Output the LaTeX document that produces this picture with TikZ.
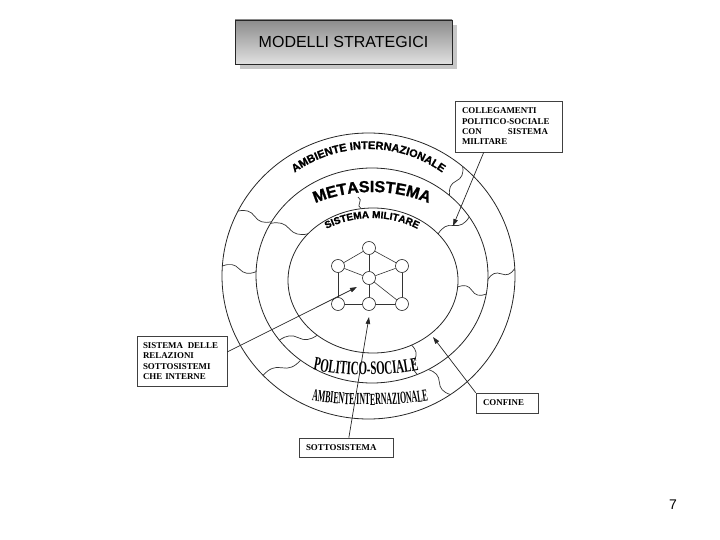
\documentclass[tikz,border=0pt]{standalone}
\usepackage{fontspec}
\setmainfont{Liberation Serif}
\newfontfamily\arialfont{Liberation Sans}
\newfontfamily\heavyfont{Liberation Sans}[FakeBold=1.2]
\newfontfamily\condA{Liberation Serif}[FakeStretch=0.57]
\newfontfamily\condB{Liberation Serif}[FakeStretch=0.46]
\usetikzlibrary{calc,arrows.meta,decorations.text,shadows}
\newcommand\fTopA{\heavyfont\bfseries\fontsize{11}{13}\selectfont}
\newcommand\fMeta{\heavyfont\bfseries\fontsize{16}{18}\selectfont}
\newcommand\fMil{\heavyfont\bfseries\fontsize{10}{12}\selectfont}
\newcommand\fPol{\condA\bfseries\fontsize{19}{21}\selectfont}
\newcommand\fBotA{\condB\bfseries\fontsize{17}{19}\selectfont}
\newcommand\spreadline[2]{\leavevmode\hbox to #1{#2}}
\newcommand\mywavy[3]{%
  \draw[wig] (#1) .. controls ($(#1)!0.2!(#2)!#3!90:(#2)$) and ($(#1)!0.35!(#2)!#3!90:(#2)$) .. ($(#1)!0.5!(#2)$)
    .. controls ($(#1)!0.65!(#2)!-#3!90:(#2)$) and ($(#1)!0.8!(#2)!-#3!90:(#2)$) .. (#2);}
\tikzset{
  ring/.style={line width=0.8pt, draw=black!85},
  wig/.style={line width=0.7pt, draw=black!80},
  lbl/.style={draw=black!75, line width=0.6pt, font=\bfseries\fontsize{8.9}{10.3}\selectfont, align=left, inner ysep=3pt},
  net/.style={circle, draw=black!85, line width=0.6pt, fill=white, minimum size=13pt, inner sep=0pt},
  netedge/.style={line width=0.6pt, draw=black!80},
  ptr/.style={line width=0.7pt, draw=black!85, -{Triangle[length=7pt,width=4.5pt]}}
}
\begin{document}
\begin{tikzpicture}[x=1pt,y=1pt]
\useasboundingbox (0,0) rectangle (720,-540);

% title
\node[draw=black!85, line width=0.8pt, top color=black!45, bottom color=black!12,
      minimum width=217pt, minimum height=44pt,
      drop shadow={shadow xshift=5pt, shadow yshift=-5pt, fill=black!22, opacity=1},
      font=\arialfont\fontsize{16}{19}\selectfont] (title) at (343.5,-42) {MODELLI STRATEGICI};

% rings
\coordinate (Co) at (368.5,-276);
\coordinate (Cm) at (372,-275.5);
\coordinate (Ci) at (373,-280.5);
\draw[ring] (Co) ellipse [x radius=146.5pt, y radius=143pt];
\draw[ring] (Cm) ellipse [x radius=116pt, y radius=107.5pt];
\draw[ring] (Ci) ellipse [x radius=85pt, y radius=72.5pt];

% boundaries in the outer band
\coordinate (w1a) at ($(Cm)+(48:116pt and 107.5pt)$);
\coordinate (w1b) at ($(Co)+(50:146.5pt and 143pt)$);
\coordinate (w2a) at ($(Cm)+(150:116pt and 107.5pt)$);
\coordinate (w2b) at ($(Co)+(153:146.5pt and 143pt)$);
\coordinate (w3a) at ($(Cm)+(178:116pt and 107.5pt)$);
\coordinate (w3b) at ($(Co)+(176:146.5pt and 143pt)$);
\coordinate (w4a) at ($(Cm)+(232:116pt and 107.5pt)$);
\coordinate (w4b) at ($(Co)+(224:146.5pt and 143pt)$);
\coordinate (w5a) at ($(Cm)+(358:116pt and 107.5pt)$);
\coordinate (w5b) at ($(Co)+(3:146.5pt and 143pt)$);
\coordinate (w6a) at ($(Cm)+(299:116pt and 107.5pt)$);
\coordinate (w6b) at ($(Co)+(304:146.5pt and 143pt)$);
\mywavy{w1a}{w1b}{4pt}
\mywavy{w2a}{w2b}{4pt}
\mywavy{w3a}{w3b}{4pt}
\mywavy{w4a}{w4b}{4pt}
\mywavy{w5a}{w5b}{4pt}
\mywavy{w6a}{w6b}{4pt}

% boundaries in the middle band
\coordinate (m1a) at (358,-197);
\coordinate (m1b) at ($(Ci)+(98:85pt and 72.5pt)$);
\coordinate (m2a) at ($(Cm)+(151:116pt and 107.5pt)$);
\coordinate (m2b) at ($(Ci)+(140:85pt and 72.5pt)$);
\coordinate (m3a) at ($(Cm)+(33:116pt and 107.5pt)$);
\coordinate (m3b) at ($(Ci)+(40:85pt and 72.5pt)$);
\coordinate (m4a) at ($(Cm)+(350:116pt and 107.5pt)$);
\coordinate (m4b) at ($(Ci)+(355:85pt and 72.5pt)$);
\coordinate (m5a) at ($(Cm)+(293:116pt and 107.5pt)$);
\coordinate (m5b) at ($(Ci)+(297:85pt and 72.5pt)$);
\coordinate (m6a) at ($(Cm)+(217:116pt and 107.5pt)$);
\coordinate (m6b) at ($(Ci)+(229:85pt and 72.5pt)$);
\mywavy{m1a}{m1b}{2pt}
\mywavy{m2a}{m2b}{4pt}
\mywavy{m3a}{m3b}{4pt}
\mywavy{m4a}{m4b}{4pt}
\mywavy{m5a}{m5b}{4pt}
\mywavy{m6a}{m6b}{4pt}

% arc texts
\path[decorate, decoration={text along path, text align=center, text={|\fTopA|AMBIENTE INTERNAZIONALE}}]
  ($(Co)+(160:127pt)$) arc[start angle=160, end angle=20, radius=127pt];
\path[decorate, decoration={text along path, text align=center, text={|\fMeta|METASISTEMA}}]
  ($(372,-342)+(125:150pt)$) arc[start angle=125, end angle=55, radius=150pt];
\path[decorate, decoration={text along path, text align=center, text={|\fMil|SISTEMA MILITARE}}]
  ($(372,-318)+(140:100pt)$) arc[start angle=140, end angle=40, radius=100pt];
\path[decorate, decoration={text along path, text align=center, text={|\fPol|POLITICO-SOCIALE}}]
  ($(366,-95)+(250:280pt)$) arc[start angle=250, end angle=290, radius=280pt];
\path[decorate, decoration={text along path, text align=center, text={|\fBotA|AMBIENTE INTERNAZIONALE}}]
  ($(370,-5)+(255:400pt)$) arc[start angle=255, end angle=285, radius=400pt];

% subsystem network
\node[net] (nt)  at (369,-248) {};
\node[net] (nul) at (338,-266) {};
\node[net] (nur) at (402,-266) {};
\node[net] (nc)  at (369,-278) {};
\node[net] (nbl) at (338,-304) {};
\node[net] (nbm) at (369,-304) {};
\node[net] (nbr) at (402,-304) {};
\draw[netedge] (nt) -- (nul);
\draw[netedge] (nt) -- (nur);
\draw[netedge] (nt) -- (nc);
\draw[netedge] (nul) -- (nc);
\draw[netedge] (nur) -- (nc);
\draw[netedge] (nc) -- (nbm);
\draw[netedge] (nc) -- (nbr);
\draw[netedge] (nul) -- (nbl);
\draw[netedge] (nur) -- (nbr);
\draw[netedge] (nbl) -- (nbm);
\draw[netedge] (nbm) -- (nbr);

% label boxes
\node[lbl, text width=93pt, inner xsep=7pt, minimum height=51pt] (col) at (508.5,-126.5)
  {COLLEGAMENTI\\POLITICO-SOCIALE\\\spreadline{86pt}{CON\hfill SISTEMA}\\MILITARE};
\node[lbl, text width=78pt, inner xsep=6pt, minimum height=50pt] (sdr) at (182,-361)
  {\spreadline{75pt}{SISTEMA\hfill DELLE}\\RELAZIONI\\SOTTOSISTEMI\\CHE INTERNE};
\node[lbl, text width=80pt, inner xsep=7pt, minimum height=19pt] (sot) at (346,-447.5) {SOTTOSISTEMA};
\node[lbl, text width=48pt, inner xsep=7pt, minimum height=20pt] (conf) at (507,-403) {CONFINE};

% pointers
\coordinate (t1) at (453,-226);
\coordinate (t2) at (357,-287);
\coordinate (t3) at (369,-317);
\coordinate (t4) at (433,-337);
\draw[ptr] ($(col.south west)!0.27!(col.south east)$) -- (t1);
\draw[ptr] ($(sdr.north east)!0.32!(sdr.south east)$) -- (t2);
\draw[ptr] ($(sot.north west)!0.53!(sot.north east)$) -- (t3);
\draw[ptr] (conf.north west) -- (t4);

% page number
\node[font=\arialfont\fontsize{14}{16}\selectfont] (pg) at (673,-505) {7};
\end{tikzpicture}
\end{document}
